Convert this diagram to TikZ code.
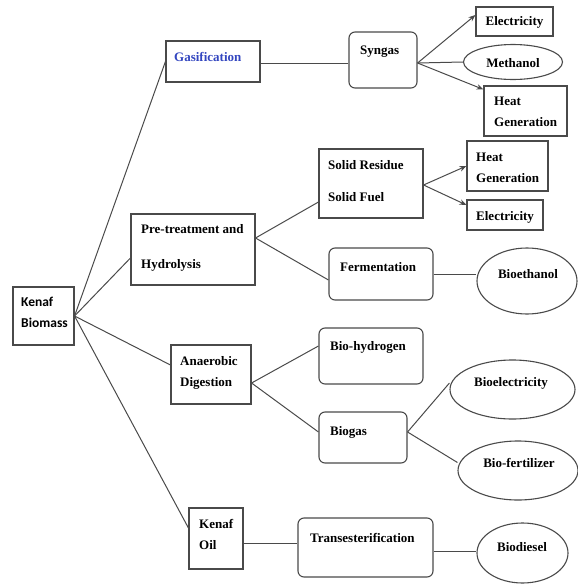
\documentclass[tikz,border=0pt]{standalone}
\usepackage{fontspec}
\setmainfont{Liberation Serif}
\newfontfamily\kfont{Carlito}
\usetikzlibrary{arrows.meta,calc,shapes.geometric}
\definecolor{ln}{HTML}{4A4A4A}
\definecolor{gasblue}{HTML}{3346C0}
\tikzset{
  every picture/.style={x=1pt,y=-1pt},
  boxsq/.style={draw=ln,line width=1.1pt,inner sep=0pt,fill=white},
  boxrd/.style={boxsq,rounded corners=6pt},
  ell/.style={draw=ln,line width=1.1pt,ellipse,inner sep=0pt,fill=white},
  lbl/.style={font=\fontsize{13}{21}\selectfont\bfseries,inner sep=0pt,align=left,anchor=west},
  lblc/.style={font=\fontsize{13}{21}\selectfont\bfseries,inner sep=0pt,align=center},
  conn/.style={draw=ln,line width=1pt},
  arr/.style={conn,-{Stealth[length=7pt,width=5.5pt]}}
}
\begin{document}
\begin{tikzpicture}
\useasboundingbox[fill=white] (0,0) rectangle (578,584);
% boxes
\node[boxsq,minimum width=61pt,minimum height=58pt] (kb) at (43.5,316) {};
\node[boxsq,minimum width=94pt,minimum height=41pt] (gas) at (213,61.5) {};
\node[boxsq,minimum width=124pt,minimum height=71pt] (pt) at (193,249.5) {};
\node[boxsq,minimum width=80pt,minimum height=59pt] (ad) at (211,374.5) {};
\node[boxsq,minimum width=54pt,minimum height=61pt] (ko) at (216,538.5) {};
\node[boxrd,minimum width=68pt,minimum height=56pt] (syn) at (383,60) {};
\node[boxsq,minimum width=77pt,minimum height=29pt] (el1) at (514.5,21.5) {};
\node[ell,minimum width=99pt,minimum height=35pt] (meth) at (513,62) {};
\node[boxsq,minimum width=83pt,minimum height=50pt] (hg1) at (525.5,111) {};
\node[boxsq,minimum width=104pt,minimum height=69pt] (sr) at (371,183.5) {};
\node[boxsq,minimum width=81pt,minimum height=50pt] (hg2) at (507.5,166) {};
\node[boxsq,minimum width=76pt,minimum height=30pt] (el2) at (505,215) {};
\node[boxrd,minimum width=104pt,minimum height=52pt] (fer) at (381,274) {};
\node[ell,minimum width=100pt,minimum height=66pt] (beth) at (527,281) {};
\node[boxrd,minimum width=104pt,minimum height=56pt] (bh) at (371,356) {};
\node[boxrd,minimum width=88pt,minimum height=51pt] (bg) at (363,437.5) {};
\node[ell,minimum width=125pt,minimum height=59pt] (bel) at (512.5,389.5) {};
\node[ell,minimum width=120pt,minimum height=59pt] (bf) at (518,470.5) {};
\node[boxrd,minimum width=135pt,minimum height=59pt] (tr) at (365.5,547.5) {};
\node[ell,minimum width=91pt,minimum height=60pt] (bd) at (522.5,553) {};
% texts
\node[lbl,font=\kfont\fontsize{13.5}{21}\selectfont\bfseries] (tkb) at (21,312.5) {Kenaf\\Biomass};
\node[lbl,text=gasblue] (tgas) at (174,57) {Gasification};
\node[font=\fontsize{13}{35}\selectfont\bfseries,inner sep=0pt,align=left,anchor=west] (tpt) at (141,247.5) {Pre-treatment and\\Hydrolysis};
\node[lbl] (tad) at (180,372.5) {Anaerobic\\Digestion};
\node[lbl] (tko) at (199,534) {Kenaf\\Oil};
\node[lbl] (tsyn) at (360,52) {Syngas};
\node[lblc] (tel1) at (514.5,22) {Electricity};
\node[lblc] (tmeth) at (513,63) {Methanol};
\node[lbl] (thg1) at (494,111.5) {Heat\\Generation};
\node[font=\fontsize{13}{32}\selectfont\bfseries,inner sep=0pt,align=left,anchor=west] (tsr) at (328,181) {Solid Residue\\Solid Fuel};
\node[lbl] (thg2) at (476,167.5) {Heat\\Generation};
\node[lbl] (tel2) at (476,217) {Electricity};
\node[lbl] (tfer) at (340,267) {Fermentation};
\node[lblc] (tbeth) at (528,274) {Bioethanol};
\node[lbl] (tbh) at (330,347) {Bio-hydrogen};
\node[lbl] (tbg) at (330,432) {Biogas};
\node[lblc] (tbel) at (511,383) {Bioelectricity};
\node[lblc] (tbf) at (519,463) {Bio-fertilizer};
\node[lbl] (ttr) at (310,538) {Transesterification};
\node[lblc] (tbd) at (522,547) {Biodiesel};
% helper coordinates
\coordinate (kop) at ($(ko.east)+(0,5)$);
\coordinate (trp) at ($(tr.east)+(0,3.5)$);
% connectors
\draw[conn] (kb.east) -- (gas.west);
\draw[conn] (kb.east) -- ($(pt.west)+(0,8.5)$);
\draw[conn] (kb.east) -- ($(ad.west)+(0,-9.5)$);
\draw[conn] (kb.east) -- ($(ko.west)+(0,-10.5)$);
\draw[conn] ($(gas.east)+(0,1.5)$) -- ($(syn.west)+(0,3)$);
\draw[arr] ($(syn.east)+(0,3)$) -- ($(el1.west)+(0,-6.5)$);
\draw[conn] ($(syn.east)+(0,3)$) -- (meth.west);
\draw[arr] ($(syn.east)+(0,3)$) -- ($(hg1.north west)+(0,4)$);
\draw[conn] ($(pt.east)+(0,-11.5)$) -- ($(sr.west)+(0,18.5)$);
\draw[conn] ($(pt.east)+(0,-11.5)$) -- ($(fer.west)+(0,6)$);
\draw[arr] ($(sr.east)+(0,1.5)$) -- (hg2.west);
\draw[arr] ($(sr.east)+(0,1.5)$) -- ($(el2.west)+(0,-10)$);
\draw[conn] (fer.east) -- (fer.east -| beth.west);
\draw[conn] ($(ad.east)+(0,8.5)$) -- ($(bh.west)+(0,-10)$);
\draw[conn] ($(ad.east)+(0,8.5)$) -- ($(bg.west)+(0,-5.5)$);
\draw[conn] ($(bg.east)+(0,-5.5)$) -- ($(bel.west)+(0,-6.5)$);
\draw[conn] ($(bg.east)+(0,-5.5)$) -- ($(bf.west)+(0,-8)$);
\draw[conn] (kop) -- (kop -| tr.west);
\draw[conn] (trp) -- (trp -| bd.west);
\end{tikzpicture}
\end{document}
